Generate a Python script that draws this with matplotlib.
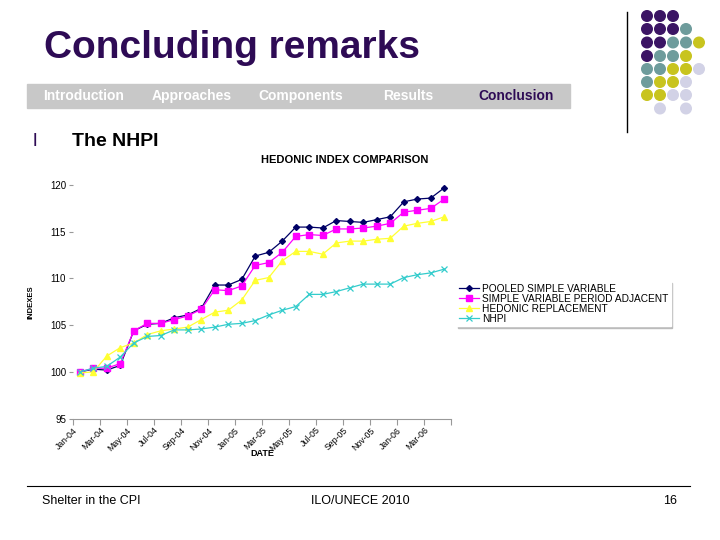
import matplotlib.pyplot as plt
from matplotlib.patches import Rectangle, Circle
from matplotlib.lines import Line2D

plt.rcParams['font.family'] = ['Liberation Sans', 'DejaVu Sans']

# monthly categories Jan-04 .. Apr-06
months = ["Jan-04", "Feb-04", "Mar-04", "Apr-04", "May-04", "Jun-04", "Jul-04",
          "Aug-04", "Sep-04", "Oct-04", "Nov-04", "Dec-04", "Jan-05", "Feb-05",
          "Mar-05", "Apr-05", "May-05", "Jun-05", "Jul-05", "Aug-05", "Sep-05",
          "Oct-05", "Nov-05", "Dec-05", "Jan-06", "Feb-06", "Mar-06", "Apr-06"]

pooled = [100.0, 100.3, 100.2, 100.7, 104.4, 105.1, 105.2, 105.8, 106.1, 106.8,
          109.3, 109.3, 109.9, 112.4, 112.8, 114.0, 115.5, 115.5, 115.4, 116.2,
          116.1, 116.0, 116.3, 116.6, 118.2, 118.5, 118.6, 119.7]
period_adj = [100.0, 100.4, 100.4, 100.9, 104.4, 105.2, 105.2, 105.6, 106.0, 106.7,
              108.8, 108.7, 109.2, 111.4, 111.7, 112.8, 114.5, 114.7, 114.6, 115.3,
              115.3, 115.4, 115.6, 115.9, 117.1, 117.3, 117.5, 118.5]
replacement = [99.9, 100.0, 101.7, 102.6, 103.1, 104.0, 104.4, 104.6, 104.8, 105.6,
               106.4, 106.6, 107.7, 109.8, 110.1, 111.9, 112.9, 112.9, 112.6, 113.8,
               114.0, 114.0, 114.2, 114.3, 115.6, 115.9, 116.1, 116.6]
nhpi = [100.0, 100.4, 100.6, 101.6, 103.1, 103.8, 103.9, 104.5, 104.5, 104.6,
        104.8, 105.1, 105.2, 105.5, 106.1, 106.6, 107.0, 108.3, 108.3, 108.6,
        109.0, 109.4, 109.4, 109.4, 110.1, 110.4, 110.6, 111.0]

series_names = ["POOLED SIMPLE VARIABLE", "SIMPLE VARIABLE PERIOD ADJACENT",
                "HEDONIC REPLACEMENT", "NHPI"]

purple = '#2E0B55'

fig = plt.figure(figsize=(7.2, 5.4), dpi=100)

# slide decorations
fig.text(44/720, 1-48/540, "Concluding remarks", fontsize=28, fontweight='bold',
         color=purple, va='center', ha='left')
fig.patches.append(Rectangle((27/720, 1-108/540), 543/720, 24/540,
                             transform=fig.transFigure, color='#c8c8c8', zorder=0))
nav = [("Introduction", 43), ("Approaches", 152), ("Components", 258),
       ("Results", 383), ("Conclusion", 478)]
for name, xp in nav:
    fig.text(xp/720, 1-96/540, name, fontsize=10, fontweight='bold',
             color=purple if name == "Conclusion" else 'white', va='center')

fig.text(33/720, 1-142/540, "l", fontsize=14, color=purple, va='center')
fig.text(72/720, 1-141/540, "The NHPI", fontsize=14, fontweight='bold',
         color='black', va='center')

fig.lines.append(Line2D([627/720, 627/720], [1-12/540, 1-132/540],
                        transform=fig.transFigure, color='black', lw=1))
fig.lines.append(Line2D([27/720, 690/720], [1-486/540, 1-486/540],
                        transform=fig.transFigure, color='black', lw=0.8))

dot_colors = {'P': '#3B1464', 'T': '#6E9C9C', 'Y': '#C8C41E', 'L': '#D2D2E6'}
dot_rows = ["PPP", "PPPT", "PPTTY", "PTTY", "TTYYL", "TYYL", "YYLL", " L L"]
col_x = [647, 660, 673, 686, 699]
row_y = [16, 29, 42.5, 56, 69, 82, 95, 108.5]
for r, row in enumerate(dot_rows):
    for c, ch in enumerate(row):
        if ch == ' ':
            continue
        fig.patches.append(Circle((col_x[c], 540-row_y[r]), 5.3,
                                  transform=None, color=dot_colors[ch]))

fig.text(42/720, 1-501/540, "Shelter in the CPI", fontsize=9, va='center')
fig.text(360/720, 1-501/540, "ILO/UNECE 2010", fontsize=9, va='center', ha='center')
fig.text(670/720, 1-501/540, "16", fontsize=9, va='center', ha='center')

# chart
ax = fig.add_axes([73/720, 1-418.7/540, 378/720, (418.7-171)/540])
x = list(range(len(months)))
ax.plot(x, pooled, color='#000066', marker='D', ms=3, lw=0.9, label=series_names[0])
ax.plot(x, period_adj, color='#FF00FF', marker='s', ms=5, lw=0.9, label=series_names[1])
ax.plot(x, replacement, color='#FFFF33', marker='^', ms=5, lw=0.9, label=series_names[2])
ax.plot(x, nhpi, color='#33CCCC', marker='x', ms=4, mew=0.9, lw=0.9, label=series_names[3])

ax.set_xlim(-0.5, len(months) - 0.5)
ax.set_ylim(95, 121.5)
ax.set_yticks([95, 100, 105, 110, 115, 120])
ax.set_xticks([i - 0.5 for i in range(0, len(months) + 1, 2)])
ax.set_xticklabels(months[::2] + [""], rotation=45, ha='right',
                   rotation_mode='anchor', fontsize=6.3)
ax.tick_params(axis='y', labelsize=7, length=3, color='#999999', pad=2)
ax.tick_params(axis='x', length=4, color='#999999', pad=1)
for side in ['top', 'right', 'left']:
    ax.spines[side].set_visible(False)
ax.spines['bottom'].set_color('#999999')
ax.spines['bottom'].set_linewidth(0.8)

ax.set_title("HEDONIC INDEX COMPARISON", fontsize=8, fontweight='bold', pad=6,
             x=(345-73)/378)
fig.text(31/720, 1-302/540, "INDEXES", fontsize=5.5, fontweight='bold',
         rotation=90, va='center', ha='center')
fig.text(262/720, 1-454/540, "DATE", fontsize=6.5, fontweight='bold',
         va='center', ha='center')

fig.legend(loc='upper left', bbox_to_anchor=(456/720, 1-281/540), fontsize=7.3,
           frameon=True, fancybox=False, edgecolor='white', facecolor='white',
           shadow={'color': '#bbbbbb', 'alpha': 1, 'ox': 1.2, 'oy': -1.2},
           framealpha=1, handlelength=2.0, handletextpad=0.3, labelspacing=0.0,
           borderpad=0.25, borderaxespad=0)

fig.savefig("out.png", dpi=100)
